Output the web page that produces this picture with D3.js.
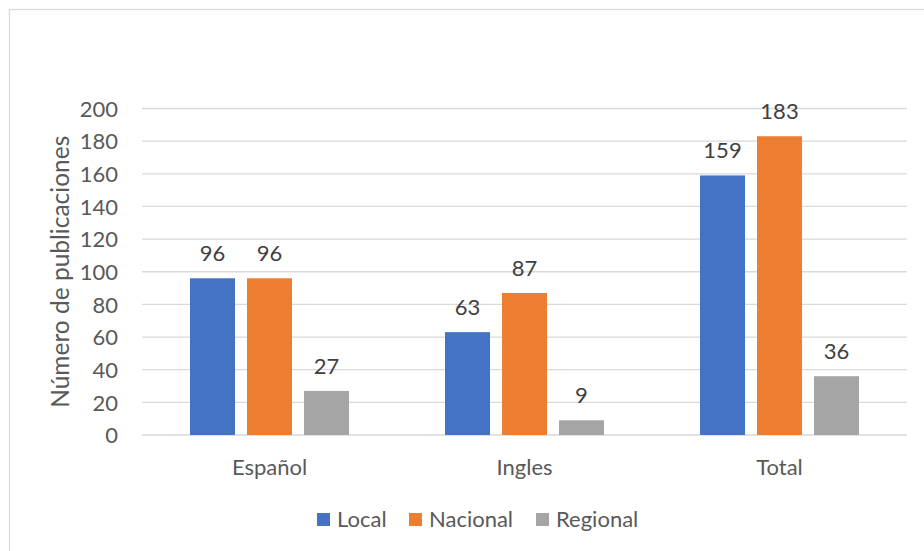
<!DOCTYPE html>
<html>
<head>
<meta charset="utf-8">
<script src="https://cdn.jsdelivr.net/npm/d3@7"></script>
<style>
  html, body { margin: 0; padding: 0; background: #fff; }
  svg { display: block; font-family: Lato, "Open Sans", sans-serif; }
</style>
</head>
<body>
<svg id="chart" width="924" height="551"></svg>
<script>
const categories = ["Español", "Ingles", "Total"];
const seriesNames = ["Local", "Nacional", "Regional"];
const localValues = [96, 63, 159];
const nacionalValues = [96, 87, 183];
const regionalValues = [27, 9, 36];
const yTicks = [0, 20, 40, 60, 80, 100, 120, 140, 160, 180, 200];
const colors = ["#4472C4", "#ED7D31", "#A5A5A5"];
const yTitle = "Número de publicaciones";

(function () {
const seriesValues = [localValues, nacionalValues, regionalValues];
const data = categories.map((c, i) => ({
  cat: c,
  vals: seriesNames.map((s, j) => ({ name: s, value: seriesValues[j][i], color: colors[j] }))
}));

const svg = d3.select("#chart");
const W = 924, H = 551;
const FS = 22;

// chart frame
svg.append("rect").attr("x", 9.5).attr("y", 9.5).attr("width", W + 20).attr("height", H + 20)
  .attr("fill", "#fff").attr("stroke", "#D9D9D9").attr("stroke-width", 1.3);

const pLeft = 142, pRight = 907, pTop = 108.5, pBottom = 435;

const x0 = d3.scaleBand().domain(categories).range([pLeft, pRight]).paddingInner(0).paddingOuter(0);
const y = d3.scaleLinear().domain([0, 200]).range([pBottom, pTop]);

// gridlines
svg.append("g").selectAll("line").data(yTicks).join("line")
  .attr("x1", pLeft).attr("x2", pRight)
  .attr("y1", d => y(d)).attr("y2", d => y(d))
  .attr("stroke", "#D9D9D9").attr("stroke-width", 1.3);

// y axis labels
const yAxis = d3.axisLeft(y).tickValues(yTicks).tickSize(0).tickPadding(0);
const gy = svg.append("g").attr("transform", `translate(${pLeft - 24},0)`).call(yAxis);
gy.select(".domain").remove();
gy.selectAll("text").attr("font-size", FS).attr("fill", "#595959")
  .attr("font-family", "Lato, 'Open Sans', sans-serif").attr("dy", "0.35em");

// y title
svg.append("text")
  .attr("transform", `translate(69,${(pTop + pBottom) / 2 + 0}) rotate(-90)`)
  .attr("text-anchor", "middle")
  .attr("font-size", 24.5).attr("fill", "#595959")
  .text(yTitle);

// bars
const groupW = 3 * 45 + 2 * 12;
const inner = d3.scaleBand().domain(seriesNames).range([0, groupW]).paddingInner(12 / 57).paddingOuter(0);
const groups = svg.append("g").selectAll("g").data(data).join("g")
  .attr("transform", d => `translate(${x0(d.cat) + (x0.bandwidth() - groupW) / 2},0)`);

groups.selectAll("rect").data(d => d.vals).join("rect")
  .attr("x", d => inner(d.name))
  .attr("width", inner.bandwidth())
  .attr("y", d => y(d.value))
  .attr("height", d => pBottom - y(d.value))
  .attr("fill", d => d.color);

groups.selectAll("text").data(d => d.vals).join("text")
  .attr("x", d => inner(d.name) + inner.bandwidth() / 2)
  .attr("y", d => y(d.value) - 17)
  .attr("text-anchor", "middle")
  .attr("font-size", FS).attr("fill", "#404040")
  .text(d => d.value);

// x axis labels
const xAxis = d3.axisBottom(x0).tickSize(0).tickPadding(0);
const gx = svg.append("g").attr("transform", `translate(0,${pBottom + 32})`).call(xAxis);
gx.select(".domain").remove();
gx.selectAll("text").attr("font-size", FS).attr("fill", "#595959")
  .attr("font-family", "Lato, 'Open Sans', sans-serif").attr("dy", "0.35em");

// legend
const legendX = [317, 409, 536];
const lg = svg.append("g").selectAll("g").data(seriesNames).join("g")
  .attr("transform", (d, i) => `translate(${legendX[i]},513)`);
lg.append("rect").attr("width", 13).attr("height", 13).attr("fill", (d, i) => colors[i]);
lg.append("text").attr("x", 20).attr("y", 14).attr("font-size", FS).attr("fill", "#595959").text(d => d);
})();
</script>
</body>
</html>
